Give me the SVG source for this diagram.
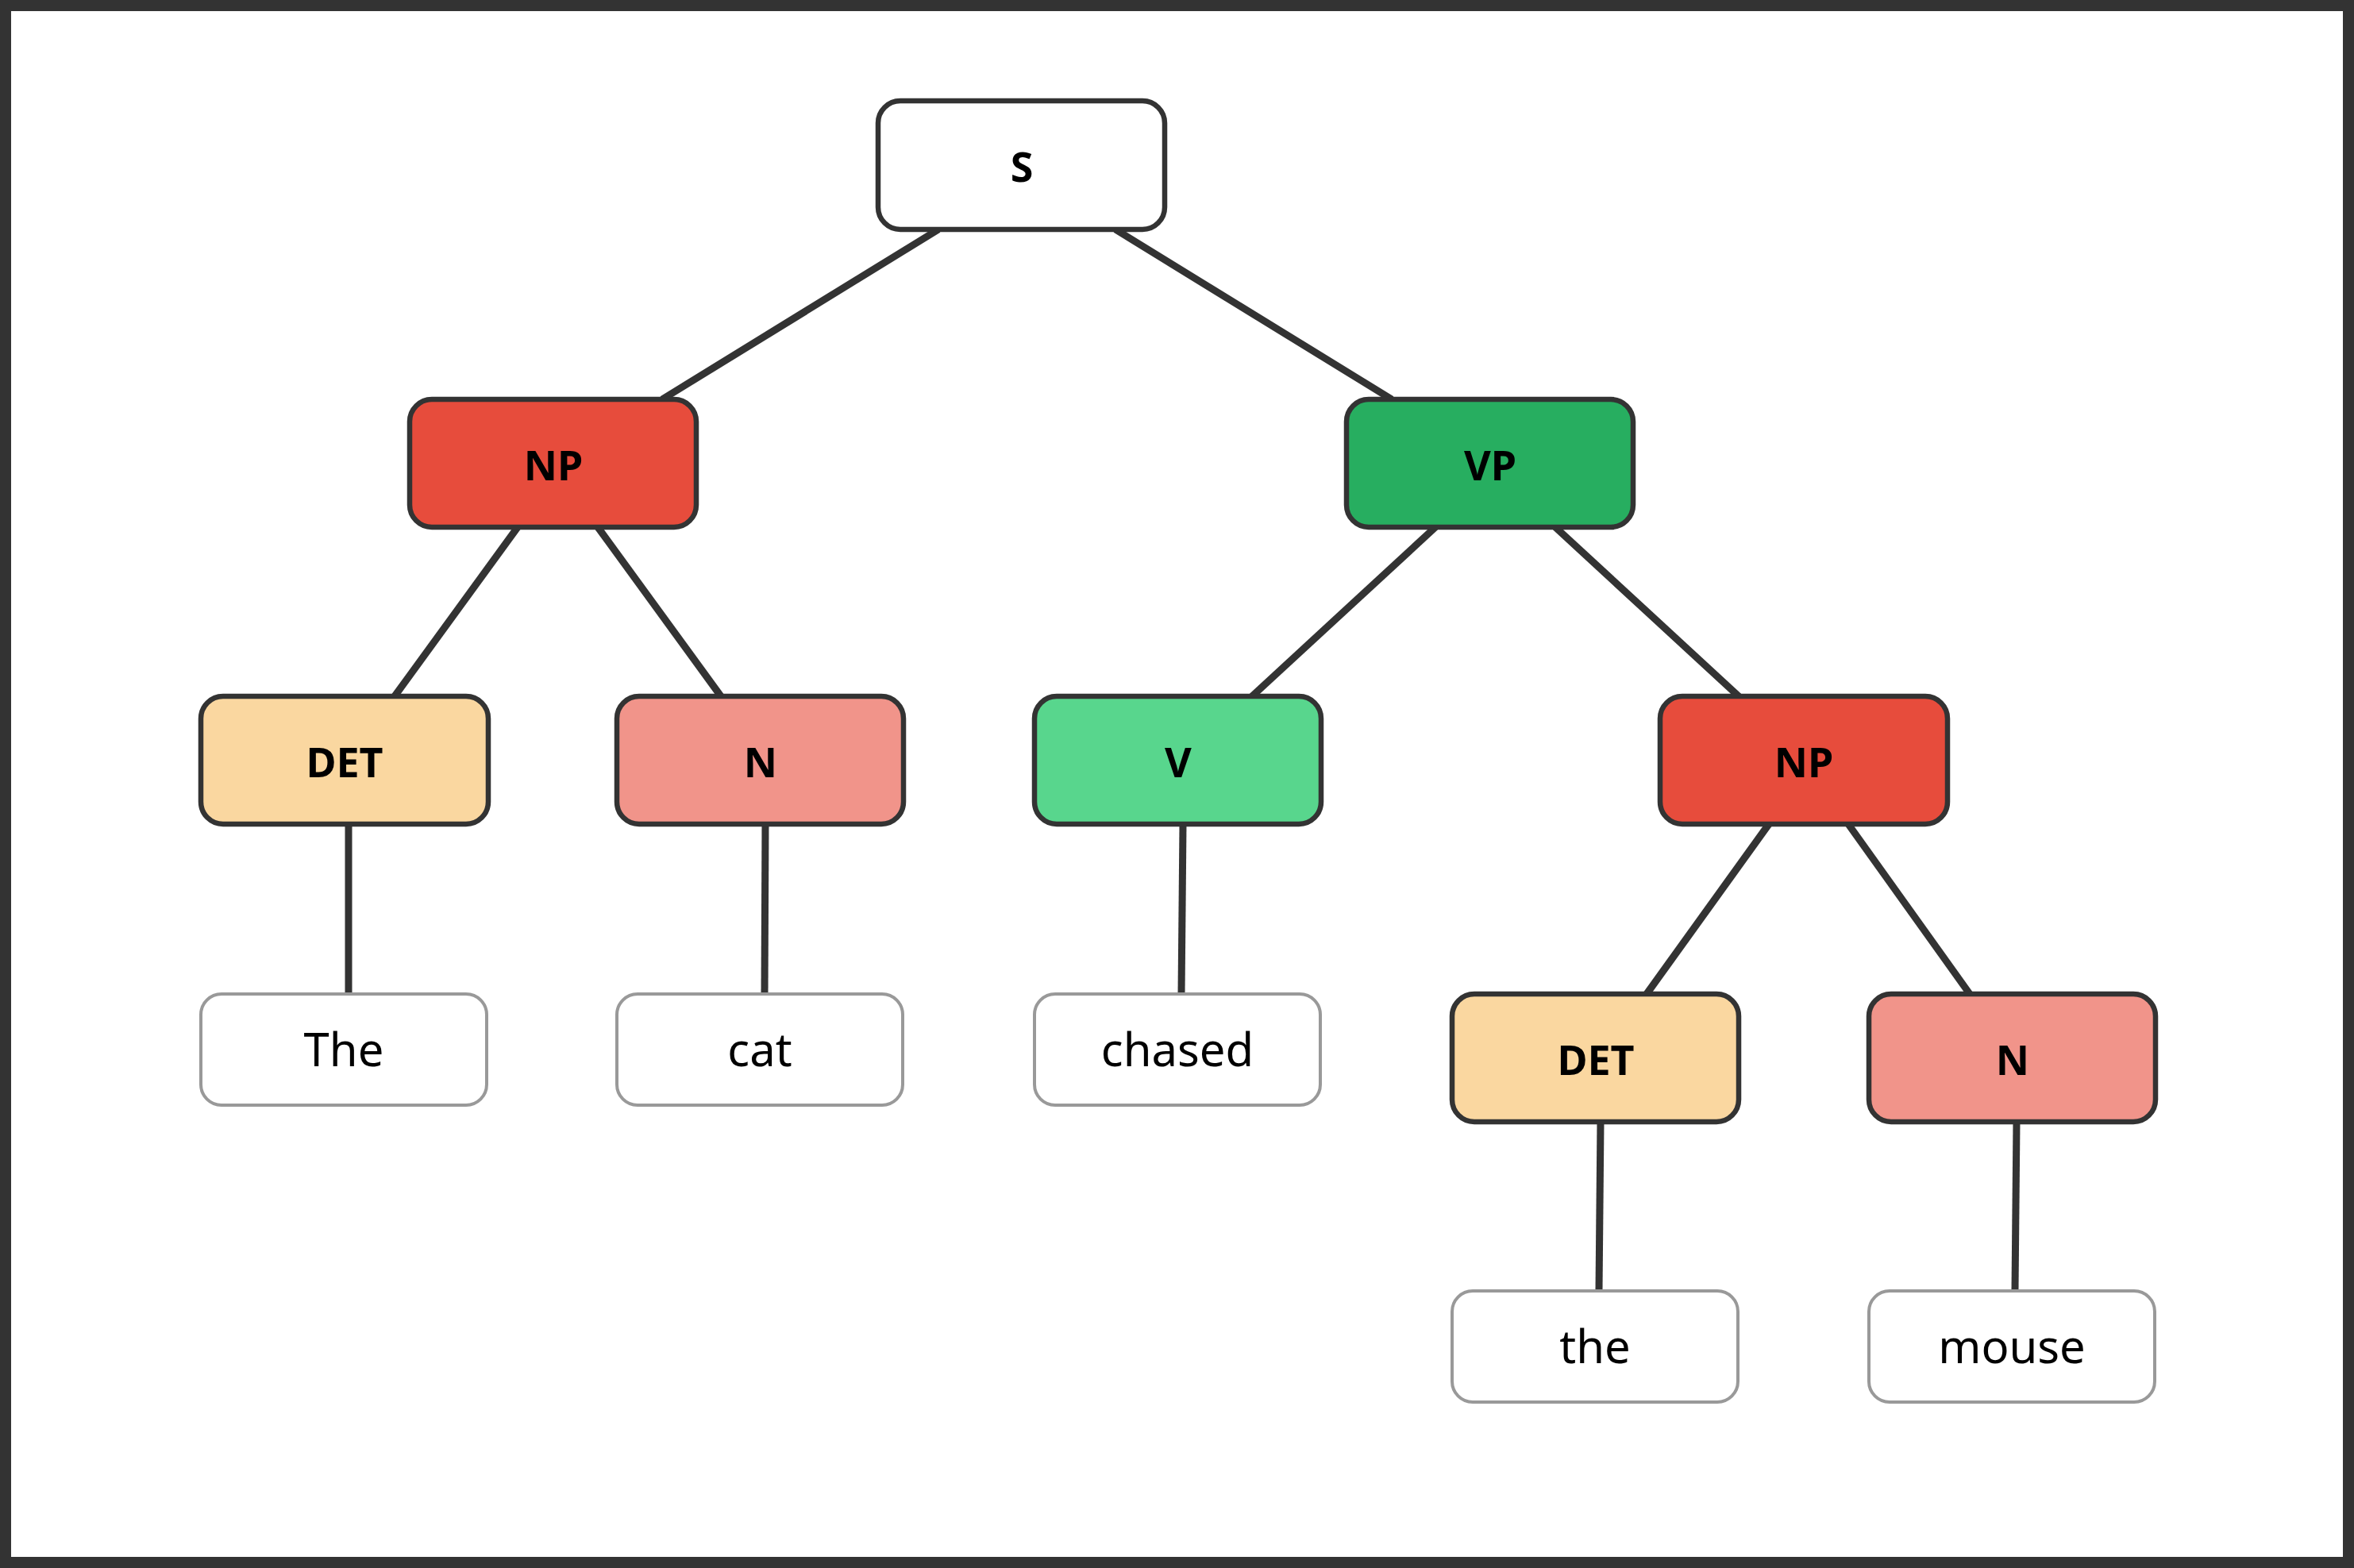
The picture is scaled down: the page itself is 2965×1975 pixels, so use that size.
<svg xmlns="http://www.w3.org/2000/svg" width="2965" height="1975" viewBox="0 0 2965 1975">
<style>
.n{stroke:#333;stroke-width:6.5}
.w{fill:#fff;stroke:#999;stroke-width:4}
.t{font-family:"Noto Sans","Open Sans",sans-serif;font-weight:bold;font-size:52px;fill:#000;text-anchor:middle;dominant-baseline:central}
.wt{font-family:"Noto Sans","Open Sans",sans-serif;font-size:58px;fill:#000;text-anchor:middle;dominant-baseline:central}
#edges line{stroke:#333;stroke-width:9}
</style>
<rect x="0" y="0" width="2965" height="1975" fill="#fff"/>
<rect x="7" y="7" width="2951" height="1961" fill="none" stroke="#333" stroke-width="14"/>
<g id="edges">
<line x1="1182" y1="289" x2="834" y2="503"/>
<line x1="1405" y1="289" x2="1753" y2="503"/>
<line x1="652" y1="664" x2="497" y2="877"/>
<line x1="753" y1="664" x2="908" y2="877"/>
<line x1="1808" y1="664" x2="1577" y2="877"/>
<line x1="1959" y1="664" x2="2190" y2="877"/>
<line x1="439" y1="1038" x2="439" y2="1252"/>
<line x1="964" y1="1038" x2="963" y2="1252"/>
<line x1="1490" y1="1038" x2="1488" y2="1252"/>
<line x1="2228" y1="1038" x2="2074" y2="1252"/>
<line x1="2328" y1="1038" x2="2481" y2="1252"/>
<line x1="2016" y1="1413" x2="2014" y2="1626"/>
<line x1="2540" y1="1413" x2="2538" y2="1626"/>
</g>
<g id="S"><rect class="n" x="1106" y="127" width="361" height="162" rx="28" fill="#fff"/><text class="t" x="1287" y="208">S</text></g>
<g id="NP1"><rect class="n" x="516" y="503" width="361" height="161" rx="28" fill="#e74c3c"/><text class="t" x="697" y="584">NP</text></g>
<g id="VP"><rect class="n" x="1696" y="503" width="361" height="161" rx="28" fill="#27ae60"/><text class="t" x="1877" y="584">VP</text></g>
<g id="DET1"><rect class="n" x="253" y="877" width="362" height="161" rx="28" fill="#fad7a0"/><text class="t" x="434" y="958">DET</text></g>
<g id="N1"><rect class="n" x="777" y="877" width="361" height="161" rx="28" fill="#f1948a"/><text class="t" x="958" y="958">N</text></g>
<g id="V"><rect class="n" x="1303" y="877" width="361" height="161" rx="28" fill="#58d68d"/><text class="t" x="1484" y="958">V</text></g>
<g id="NP2"><rect class="n" x="2091" y="877" width="362" height="161" rx="28" fill="#e74c3c"/><text class="t" x="2272" y="958">NP</text></g>
<g id="DET2"><rect class="n" x="1829" y="1252" width="361" height="161" rx="28" fill="#fad7a0"/><text class="t" x="2010" y="1333">DET</text></g>
<g id="N2"><rect class="n" x="2354" y="1252" width="361" height="161" rx="28" fill="#f1948a"/><text class="t" x="2535" y="1333">N</text></g>
<g id="wThe"><rect class="w" x="253" y="1252" width="360" height="140" rx="26"/><text class="wt" x="433" y="1320">The</text></g>
<g id="wcat"><rect class="w" x="777" y="1252" width="360" height="140" rx="26"/><text class="wt" x="957" y="1320">cat</text></g>
<g id="wchased"><rect class="w" x="1303" y="1252" width="360" height="140" rx="26"/><text class="wt" x="1483" y="1320">chased</text></g>
<g id="wthe"><rect class="w" x="1829" y="1626" width="360" height="140" rx="26"/><text class="wt" x="2009" y="1694">the</text></g>
<g id="wmouse"><rect class="w" x="2354" y="1626" width="360" height="140" rx="26"/><text class="wt" x="2534" y="1694">mouse</text></g>
</svg>
